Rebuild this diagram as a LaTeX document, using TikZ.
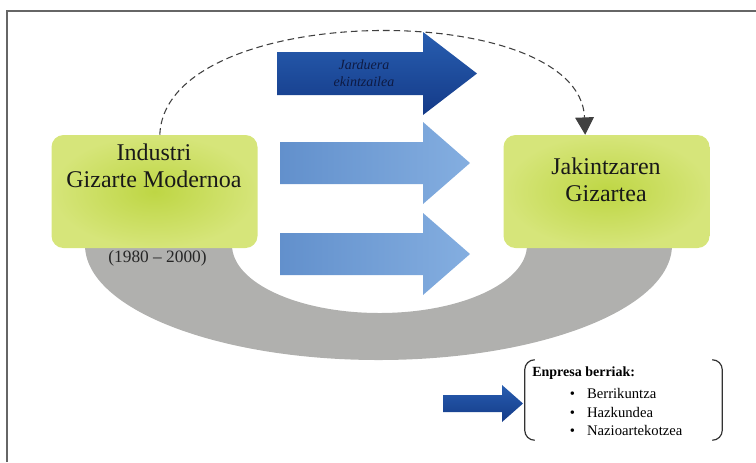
\documentclass[tikz,border=0pt]{standalone}
\usepackage{fontspec}
\setmainfont{Liberation Serif}
\usetikzlibrary{arrows.meta}

\definecolor{boxgreen}{RGB}{214,229,122}
\definecolor{boxgreenin}{RGB}{190,214,68}
\definecolor{bandgray}{RGB}{176,176,174}
\definecolor{midblue}{RGB}{98,144,204}
\definecolor{midbluelight}{RGB}{132,174,224}
\definecolor{darkbluetop}{RGB}{40,94,176}
\definecolor{darkbluebot}{RGB}{20,58,136}
\definecolor{navytext}{RGB}{14,26,66}

\begin{document}
\begin{tikzpicture}[x=0.75pt,y=0.75pt,yscale=-1,xscale=1,
  gbox/.style={rectangle, rounded corners=9pt, minimum width=154.5pt, minimum height=84.75pt, inner color=boxgreenin, outer color=boxgreen},
  boxtext/.style={align=center, text=black!90, font=\fontsize{18}{20}\selectfont},
  marrow/.style={left color=midblue, right color=midbluelight},
  darrow/.style={top color=darkbluetop, bottom color=darkbluebot},
  brk/.style={line width=0.9pt, draw=black!80, rounded corners=7.5pt},
  listitem/.style={anchor=west, inner sep=0pt, font=\fontsize{11}{13}\selectfont}]
\useasboundingbox (0,0) rectangle (756,462);

%Shape: Frame
\draw [line width=1.5pt, color=black!60] (7,462) -- (7,11) -- (756,11) ;

%Shape: Curved Band
\fill [color=bandgray] (85,245) .. controls (85,308.5) and (216.4,360) .. (378.5,360) .. controls (540.6,360) and (672,308.5) .. (672,245) -- (527,245) .. controls (527,282.6) and (461,313) .. (379.5,313) .. controls (298,313) and (232,282.6) .. (232,245) -- cycle ;

%Shape: Right Arrow
\path [darrow] (277,52) -- (423,52) -- (423,32) -- (477,73.5) -- (423,115) -- (423,95) -- (277,95) -- cycle ;
%Shape: Right Arrow
\path [marrow] (280,142) -- (423,142) -- (423,122) -- (470,163) -- (423,204) -- (423,184) -- (280,184) -- cycle ;
%Shape: Right Arrow
\path [marrow] (280,233) -- (423,233) -- (423,213) -- (470,254) -- (423,295) -- (423,275) -- (280,275) -- cycle ;
%Shape: Right Arrow
\path [darrow] (443,395) -- (502,395) -- (502,385) -- (523,403.5) -- (502,422) -- (502,412) -- (443,412) -- cycle ;

%Shape: Rounded Rect
\node (lbox) [gbox] at (154.5,191.5) {};
%Shape: Rounded Rect
\node (rbox) [gbox] at (606.5,191.5) {};

%Curve Lines
\draw [dash pattern=on 5pt off 3pt, line width=0.8pt, color=black!75, -{Triangle[length=13pt,width=14pt]}] ([xshift=4pt]lbox.north) .. controls +(5,-135) and +(-5,-137) .. ([xshift=-16pt]rbox.north) ;

%Shape: Brackets
\node (bbox) [minimum width=147.75pt, minimum height=60pt, inner sep=0pt] at (623.5,400) {};
\draw [brk] ([xshift=7.5pt]bbox.north west) -- (bbox.north west) -- (bbox.south west) -- ([xshift=7.5pt]bbox.south west) ;
\draw [brk] ([xshift=-7.5pt]bbox.north east) -- (bbox.north east) -- (bbox.south east) -- ([xshift=-7.5pt]bbox.south east) ;

% Text Node
\draw (154,166) node (lname) [boxtext] {Industri\\Gizarte Modernoa};
% Text Node
\draw (606,180) node (rname) [boxtext] {Jakintzaren\\Gizartea};
% Text Node
\draw (364,73.5) node (act) [align=center, text=navytext, font=\fontsize{10.5}{12.75}\selectfont\itshape] {Jarduera\\ekintzailea};
% Text Node
\draw (157.5,258) node (years) [text=black!85, font=\fontsize{13}{15}\selectfont] {(1980 -- 2000)};
% Text Node
\draw (532,373) node (phead) [anchor=west, inner sep=0pt, font=\fontsize{10.5}{12}\selectfont\bfseries] {Enpresa berriak:};
% Text Node
\draw (569.5,393) node (pone) [listitem] {\makebox[13pt][l]{\textbullet}Berrikuntza};
% Text Node
\draw (569.5,412) node (ptwo) [listitem] {\makebox[13pt][l]{\textbullet}Hazkundea};
% Text Node
\draw (569.5,430) node (pthree) [listitem] {\makebox[13pt][l]{\textbullet}Nazioartekotzea};

\end{tikzpicture}
\end{document}
